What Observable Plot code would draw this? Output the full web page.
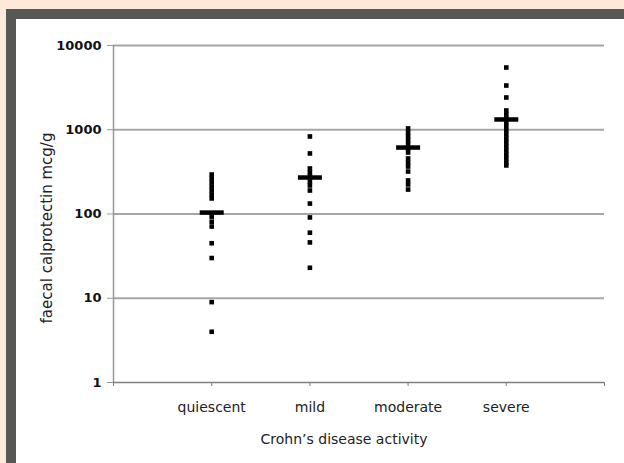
<!DOCTYPE html>
<html><head><meta charset="utf-8">
<script src="https://cdn.jsdelivr.net/npm/d3@7"></script>
<script src="https://cdn.jsdelivr.net/npm/@observablehq/plot@0.6"></script>
<style>
html,body{margin:0;padding:0;background:#fde9d9;width:624px;height:463px;overflow:hidden;}
#frame{position:absolute;left:6px;top:9px;width:608px;height:444px;border-left:10px solid #575755;border-top:10px solid #575755;background:#fff;}
#chart svg{display:block}
</style></head><body><div id="frame"><div id="chart"></div></div>
<script>
const categories = ["quiescent", "mild", "moderate", "severe"];
const quiescentValues = [294, 264, 237, 212, 190, 170, 153, 93, 81, 71, 45, 30, 9, 4];
const mildValues = [832, 523, 347, 311, 279, 243, 218, 190, 133, 91, 60, 46, 23];
const moderateValues = [1035, 927, 831, 745, 668, 599, 537, 456, 408, 366, 319, 250, 224, 195];
const severeValues = [5480, 3350, 2414, 1693, 1517, 1360, 1219, 1093, 980, 879, 787, 706, 633, 567, 508, 456, 409, 377];
const meanValues = [104, 271, 615, 1324];
const yTicks = [1, 10, 100, 1000, 10000];
const gridValues = [10, 100, 1000, 10000];
const xLabel = "Crohn’s disease activity";
const yLabel = "faecal calprotectin mcg/g";

const seriesList = [quiescentValues, mildValues, moderateValues, severeValues];
const points = seriesList.flatMap((vals, i) => vals.map(v => ({pos: i + 1, category: categories[i], value: v})));
const meanData = meanValues.map((m, i) => ({pos: i + 1, category: categories[i], mean: m}));

const dash = {draw(ctx, size) { const r = Math.sqrt(size / Math.PI); ctx.moveTo(-r, 0); ctx.lineTo(r, 0); }};

const plot = Plot.plot({
  width: 608, height: 444,
  marginLeft: 97, marginRight: 20, marginTop: 26, marginBottom: 81,
  style: {fontFamily: "DejaVu Sans", background: "white", overflow: "visible"},
  x: {type: "linear", domain: [0, categories.length + 1]},
  y: {type: "log", domain: [1, 10000]},
  marks: [
    Plot.ruleY(gridValues, {stroke: "#a6a6a6", strokeWidth: 2}),
    Plot.ruleX([0], {stroke: "#999999", strokeWidth: 1.5}),
    Plot.ruleY([1], {stroke: "#7f7f7f", strokeWidth: 1.5}),
    Plot.axisY({ticks: yTicks, tickFormat: d => String(d), tickSize: 6, tickPadding: 6, stroke: "#999999", fill: "#111", fontSize: 13, fontWeight: "bold", label: null}),
    Plot.axisX({ticks: d3.range(0, categories.length + 2), tickFormat: d => categories[d - 1] ?? "", tickSize: 4, tickPadding: 16, stroke: "#7f7f7f", fill: "#222", fontSize: 14, label: null}),
    Plot.dot(points, {x: "pos", y: "value", symbol: "square", r: 2.6, fill: "black"}),
    Plot.dot(meanData, {x: "pos", y: "mean", symbol: dash, r: 12, stroke: "black", strokeWidth: 4.5, fill: "none"}),
    Plot.text([xLabel], {frameAnchor: "bottom", lineAnchor: "middle", textAnchor: "middle", dx: -15, dy: 57, fontSize: 14, fill: "#222"}),
    Plot.text([yLabel], {frameAnchor: "left", lineAnchor: "middle", textAnchor: "middle", rotate: -90, dx: -66, dy: 14, fontSize: 15, fill: "#222"})
  ]
});
document.getElementById("chart").appendChild(plot);
</script>
</body></html>
